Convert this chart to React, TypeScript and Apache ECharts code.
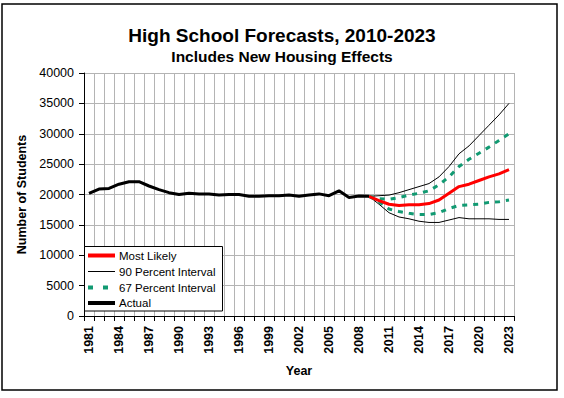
import React, { useEffect, useRef } from "react";
import * as echarts from "echarts";

const years: string[] = [];
for (let y = 1981; y <= 2023; y++) years.push(String(y));

// 1981..2009
const actual = [
  20200, 20900, 21000, 21700, 22100, 22100, 21400, 20800, 20300, 20000,
  20200, 20100, 20100, 19900, 20000, 20000, 19700, 19700, 19800, 19800,
  19900, 19700, 19900, 20100, 19800, 20600, 19500, 19750, 19700,
];
// 2009..2023
const mostLikely = [19700, 19000, 18400, 18200, 18300, 18300, 18500, 19100, 20200, 21300, 21700, 22300, 22900, 23400, 24100];
const upper90 = [19700, 19800, 19900, 20300, 20800, 21300, 21800, 22900, 24600, 26700, 28000, 29700, 31400, 33100, 35000];
const lower90 = [19700, 18400, 17000, 16300, 16000, 15600, 15400, 15400, 15800, 16200, 16000, 16000, 16000, 15900, 15900];
const upper67 = [19700, 19300, 19200, 19500, 19900, 20200, 20600, 21600, 22900, 24600, 25800, 26800, 27800, 28900, 30000];
const lower67 = [19700, 18800, 17600, 17200, 16900, 16700, 16700, 17000, 17700, 18200, 18300, 18400, 18700, 18800, 19100];

const legendNames = ["Most Likely", "90 Percent Interval", "67 Percent Interval", "Actual"];

const FONT = "'Liberation Sans', Arial, sans-serif";
const GREEN = "#119a72";
const RED = "#ff0000";

function pad(arr: number[], startIdx: number): (number | null)[] {
  const out: (number | null)[] = years.map(() => null);
  arr.forEach((v, i) => {
    out[startIdx + i] = v;
  });
  return out;
}

export default function App() {
  const ref = useRef<HTMLDivElement>(null);
  useEffect(() => {
    if (!ref.current) return;
    const chart = echarts.init(ref.current, undefined, { renderer: "svg" });
    const fStart = years.indexOf("2009");
    const lineBase = { type: "line" as const, symbol: "none", showSymbol: false, connectNulls: false };

    // legend drawn as graphic
    const lx = 84.5, ly = 246.5, lw = 138, lh = 64.5;
    const rowY = [255.5, 271.5, 287.5, 303];
    const lineX1 = 88, lineX2 = 115, textX = 119;
    const styles = [
      { stroke: RED, lineWidth: 4 },
      { stroke: "#000", lineWidth: 1 },
      { stroke: GREEN, lineWidth: 4, lineDash: [5, 10] },
      { stroke: "#000", lineWidth: 4 },
    ];
    const legendGraphics: any[] = [
      {
        type: "rect",
        shape: { x: lx, y: ly, width: lw, height: lh },
        style: { fill: "#fff", stroke: "#000", lineWidth: 1 },
        z: 100,
        silent: true,
      },
    ];
    legendNames.forEach((name, i) => {
      legendGraphics.push({
        type: "line",
        shape: { x1: lineX1, y1: rowY[i], x2: lineX2, y2: rowY[i] },
        style: { ...styles[i], fill: "none" },
        z: 101,
        silent: true,
      });
      legendGraphics.push({
        type: "text",
        x: textX,
        y: rowY[i],
        style: {
          text: name,
          fill: "#000",
          font: `11.5px ${FONT}`,
          textVerticalAlign: "middle",
          verticalAlign: "middle",
        },
        z: 101,
        silent: true,
      });
    });

    chart.setOption({
      animation: false,
      backgroundColor: "#fff",
      textStyle: { fontFamily: FONT },
      title: [
        {
          text: "High School Forecasts, 2010-2023",
          left: "center",
          top: 21,
          textStyle: { fontSize: 19, fontWeight: "bold", color: "#000", fontFamily: FONT },
        },
        {
          text: "Includes New Housing Effects",
          left: "center",
          top: 43,
          textStyle: { fontSize: 15.5, fontWeight: "bold", color: "#000", fontFamily: FONT },
        },
      ],
      graphic: [
        {
          type: "rect",
          shape: { x: 2, y: 4, width: 555, height: 386 },
          style: { fill: "none", stroke: "#000", lineWidth: 1.5 },
          silent: true,
          z: 0,
        },
        ...legendGraphics,
      ],
      grid: { left: 84, right: 50, top: 73, bottom: 82, containLabel: false },
      xAxis: {
        type: "category",
        data: years,
        boundaryGap: true,
        name: "Year",
        nameLocation: "middle",
        nameGap: 48,
        nameTextStyle: { fontSize: 12.5, fontWeight: "bold", color: "#000", fontFamily: FONT },
        axisLine: { lineStyle: { color: "#000", width: 1 } },
        axisTick: { show: true, interval: 0, length: 5, lineStyle: { color: "#000" } },
        axisLabel: {
          interval: 2,
          rotate: 90,
          fontSize: 12.5,
          fontWeight: "bold",
          color: "#000",
          margin: 10,
          fontFamily: FONT,
        },
        splitLine: { show: true, interval: 0, lineStyle: { color: "#b4b4b4", width: 1 } },
      },
      yAxis: {
        type: "value",
        min: 0,
        max: 40000,
        interval: 5000,
        name: "Number of Students",
        nameLocation: "middle",
        nameGap: 56,
        nameTextStyle: { fontSize: 12.5, fontWeight: "bold", color: "#000", fontFamily: FONT },
        axisLine: { show: true, lineStyle: { color: "#000", width: 1 } },
        axisTick: { show: true, length: 5, lineStyle: { color: "#000" } },
        axisLabel: {
          fontSize: 12.5,
          color: "#000",
          margin: 10,
          fontFamily: FONT,
          formatter: (v: number) => String(v),
        },
        splitLine: { show: true, lineStyle: { color: "#b4b4b4", width: 1 } },
      },
      series: [
        {
          ...lineBase,
          name: "90 Percent Interval",
          data: pad(upper90, fStart),
          lineStyle: { color: "#000", width: 1 },
          itemStyle: { color: "#000" },
          z: 2,
        },
        {
          ...lineBase,
          name: "90 Percent Interval",
          data: pad(lower90, fStart),
          lineStyle: { color: "#000", width: 1 },
          itemStyle: { color: "#000" },
          z: 2,
        },
        {
          ...lineBase,
          name: "67 Percent Interval",
          data: pad(upper67, fStart),
          lineStyle: { color: GREEN, width: 3, type: [5, 6] },
          itemStyle: { color: GREEN },
          z: 3,
        },
        {
          ...lineBase,
          name: "67 Percent Interval",
          data: pad(lower67, fStart),
          lineStyle: { color: GREEN, width: 3, type: [5, 6] },
          itemStyle: { color: GREEN },
          z: 3,
        },
        {
          ...lineBase,
          name: "Most Likely",
          data: pad(mostLikely, fStart),
          lineStyle: { color: RED, width: 3 },
          itemStyle: { color: RED },
          z: 4,
        },
        {
          ...lineBase,
          name: "Actual",
          data: pad(actual, 0),
          lineStyle: { color: "#000", width: 3 },
          itemStyle: { color: "#000" },
          z: 5,
        },
      ],
    });
    return () => chart.dispose();
  }, []);
  return (
    <div
      ref={ref}
      style={{ position: "fixed", left: 0, top: 0, width: 564, height: 398, background: "#fff" }}
    />
  );
}
